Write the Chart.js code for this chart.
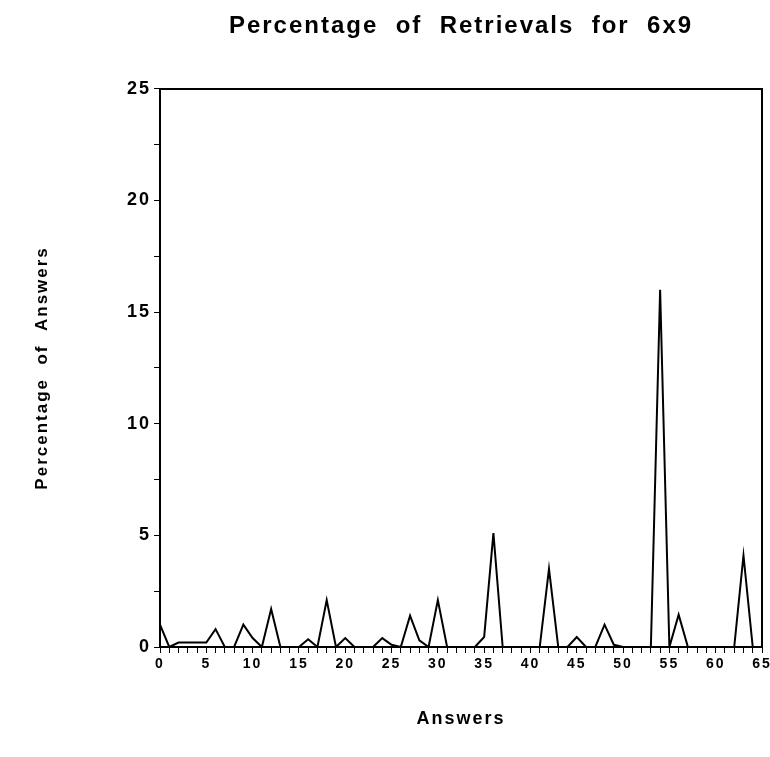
<!DOCTYPE html>
<html>
<head>
<meta charset="utf-8">
<script src="https://cdn.jsdelivr.net/npm/chart.js@4/dist/chart.umd.min.js"></script>
<style>
  html, body { margin: 0; padding: 0; background: #fff; }
  #wrap { width: 770px; height: 757px; }
</style>
</head>
<body>
<div id="wrap"><canvas id="chart"></canvas></div>
<script>
// Data
const answers = [0, 1, 2, 3, 4, 5, 6, 7, 8, 9, 10, 11, 12, 13, 14, 15, 16, 17, 18, 19,
  20, 21, 22, 23, 24, 25, 26, 27, 28, 29, 30, 31, 32, 33, 34, 35, 36, 37, 38, 39,
  40, 41, 42, 43, 44, 45, 46, 47, 48, 49, 50, 51, 52, 53, 54, 55, 56, 57, 58, 59,
  60, 61, 62, 63, 64];
const percentages = [1.0, 0, 0.2, 0.2, 0.2, 0.2, 0.8, 0, 0, 1.0, 0.4, 0, 1.7, 0, 0, 0, 0.35, 0, 2.1, 0,
  0.4, 0, 0, 0, 0.4, 0.1, 0, 1.4, 0.3, 0, 2.1, 0, 0, 0, 0, 0.45, 5.1, 0, 0, 0,
  0, 0, 3.5, 0, 0, 0.45, 0, 0, 1.0, 0.1, 0, 0, 0, 0, 16.0, 0, 1.45, 0, 0, 0,
  0, 0, 0, 4.1, 0];
const xTickLabels = [0, 5, 10, 15, 20, 25, 30, 35, 40, 45, 50, 55, 60, 65];
const yTickLabels = [0, 5, 10, 15, 20, 25];

const chartTitle = 'Percentage  of  Retrievals  for  6x9';
const xTitle = 'Answers';
const yTitle = 'Percentage  of  Answers';

Chart.defaults.color = '#000';
Chart.defaults.font.family = "'Liberation Sans', Arial, sans-serif";
Chart.defaults.font.weight = 'bold';

const points = answers.map((a, i) => ({ x: a, y: percentages[i] }));

// the scanned original uses wide tracking on every label
const tracking = {
    id: 'tracking',
    beforeLayout: chart => { chart.ctx.letterSpacing = '2px'; },
    beforeDraw: chart => { chart.ctx.letterSpacing = '2px'; }
};

const frameAxis = {
    grid: { display: false },
    ticks: { display: false },
    border: { display: true, color: '#000', width: 2 }
};

new Chart(document.getElementById('chart'), {
    type: 'line',
    data: {
        datasets: [{
            data: points,
            borderColor: '#000',
            borderWidth: 2,
            pointRadius: 0,
            tension: 0,
            fill: false
        }]
    },
    plugins: [tracking],
    options: {
        responsive: true,
        maintainAspectRatio: false,
        animation: false,
        layout: { padding: { left: 0, right: 0, top: 0, bottom: 0 } },
        plugins: {
            legend: { display: false },
            tooltip: { enabled: false },
            title: {
                display: true,
                text: chartTitle,
                fullSize: false,
                font: { size: 24, weight: 'bold' },
                color: '#000',
                padding: { top: 12, bottom: 48 }
            }
        },
        scales: {
            x: {
                type: 'linear',
                position: 'bottom',
                min: 0,
                max: 65,
                afterFit: s => { s.height = 110; s.paddingRight = 8; },
                afterBuildTicks: s => {
                    s.ticks = answers.concat([65]).map(v => ({ value: v }));
                },
                ticks: {
                    autoSkip: false,
                    maxRotation: 0,
                    padding: 3,
                    font: { size: 14, weight: 'bold' },
                    callback: v => xTickLabels.includes(v) ? String(v) : ''
                },
                grid: {
                    display: true,
                    drawOnChartArea: false,
                    drawTicks: true,
                    tickLength: 6,
                    color: '#000',
                    tickWidth: 1
                },
                border: { display: true, color: '#000', width: 2 },
                title: {
                    display: true,
                    text: xTitle,
                    font: { size: 18, weight: 'bold' },
                    color: '#000',
                    padding: { top: 0, bottom: 27 }
                }
            },
            y: {
                type: 'linear',
                position: 'left',
                min: 0,
                max: 25,
                afterFit: s => { s.width = 160; },
                ticks: {
                    stepSize: 2.5,
                    autoSkip: false,
                    padding: 3,
                    font: { size: 18, weight: 'bold' },
                    callback: v => yTickLabels.includes(v) ? String(v) : ''
                },
                grid: {
                    display: true,
                    drawOnChartArea: false,
                    drawTicks: true,
                    tickLength: 6,
                    color: '#000',
                    tickWidth: 1
                },
                border: { display: true, color: '#000', width: 2 },
                title: {
                    display: true,
                    text: yTitle,
                    font: { size: 17, weight: 'bold' },
                    color: '#000',
                    padding: { top: 32, bottom: 0 }
                }
            },
            xTop: Object.assign({ type: 'linear', position: 'top', min: 0, max: 65,
                afterFit: s => { s.height = 0; } }, frameAxis),
            yRight: Object.assign({ type: 'linear', position: 'right', min: 0, max: 25,
                afterFit: s => { s.width = 0; } }, frameAxis)
        }
    }
});
</script>
</body>
</html>
